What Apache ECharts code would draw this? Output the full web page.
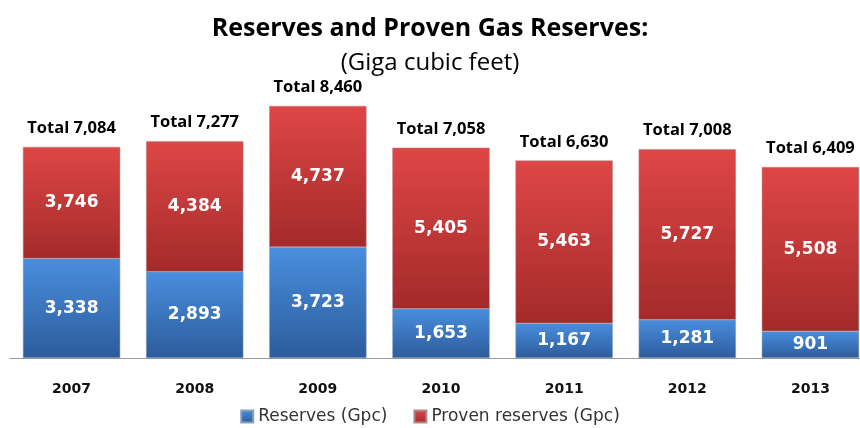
<!DOCTYPE html>
<html>
<head>
<meta charset="utf-8">
<script src="https://cdn.jsdelivr.net/npm/echarts@6/dist/echarts.min.js"></script>
<style>
html, body { margin: 0; padding: 0; background: #fff; }
#graph { width: 860px; height: 428px; }
</style>
</head>
<body>
<div id="graph"></div>
<script>
// values in Giga cubic feet
let years = ['2007', '2008', '2009', '2010', '2011', '2012', '2013'];
let reserves = [3338, 2893, 3723, 1653, 1167, 1281, 901];
let proven = [3746, 4384, 4737, 5405, 5463, 5727, 5508];
let totals = [7084, 7277, 8460, 7058, 6630, 7008, 6409];

function fmt(v) {
	return v.toLocaleString('en-US');
}

function grad(top, bottom) {
	return new echarts.graphic.LinearGradient(0, 0, 0, 1, [
		{offset: 0, color: top},
		{offset: 1, color: bottom}
	]);
}

var myChart = echarts.init(document.getElementById('graph'));

let titleFont = '"Open Sans", sans-serif';
let valueFont = '"DejaVu Sans", Verdana, sans-serif';

var option = {
	animation: false,
	title: [{
		text: 'Reserves and Proven Gas Reserves:',
		left: 'center',
		top: 11,
		textStyle: {fontFamily: titleFont, fontWeight: 'bold', fontSize: 25, color: '#000'}
	}, {
		text: '(Giga cubic feet)',
		left: 'center',
		top: 46,
		textStyle: {fontFamily: titleFont, fontWeight: 'normal', fontSize: 24, color: '#000'}
	}],
	legend: {
		top: 403,
		left: 'center',
		itemWidth: 12,
		itemHeight: 12,
		itemGap: 26,
		icon: 'rect',
		textStyle: {fontFamily: valueFont, fontSize: 17, color: '#333'},
		data: ['Reserves (Gpc)', 'Proven reserves (Gpc)']
	},
	grid: {left: 10, width: 862, top: 60, bottom: 70, containLabel: false, outerBoundsMode: 'none'},
	xAxis: {
		type: 'category',
		data: years,
		axisLine: {lineStyle: {color: '#999', width: 1}},
		axisTick: {show: false},
		axisLabel: {margin: 24, fontFamily: valueFont, fontWeight: 'bold', fontSize: 14, color: '#111'}
	},
	yAxis: {
		type: 'value',
		min: 0,
		max: 10000,
		show: false,
		splitLine: {show: false}
	},
	series: [{
		name: 'Reserves (Gpc)',
		type: 'bar',
		stack: 'gas',
		barWidth: '79%',
		data: reserves,
		itemStyle: {color: grad('#4a8ede', '#2c5c9c'), borderColor: '#8aa0bb', borderWidth: 0.5},
		label: {
			show: true,
			position: 'inside',
			formatter: p => fmt(p.value),
			fontFamily: valueFont,
			fontWeight: 'bold',
			fontSize: 17,
			color: '#fff'
		}
	}, {
		name: 'Proven reserves (Gpc)',
		type: 'bar',
		stack: 'gas',
		barWidth: '79%',
		data: proven,
		itemStyle: {color: grad('#df4646', '#a42a2a'), borderColor: '#b08a8a', borderWidth: 0.5},
		label: {
			show: true,
			position: 'inside',
			formatter: p => fmt(p.value),
			fontFamily: valueFont,
			fontWeight: 'bold',
			fontSize: 17,
			color: '#fff'
		}
	}, {
		// invisible series carrying the totals above each bar
		name: 'total',
		type: 'bar',
		stack: 'gas',
		barWidth: '79%',
		data: years.map(() => 0),
		itemStyle: {color: 'transparent'},
		label: {
			show: true,
			position: 'top',
			distance: 10,
			formatter: p => 'Total ' + fmt(totals[p.dataIndex]),
			fontFamily: titleFont,
			fontWeight: 'bold',
			fontSize: 16.5,
			color: '#000'
		}
	}]
};

myChart.setOption(option);
</script>
</body>
</html>
